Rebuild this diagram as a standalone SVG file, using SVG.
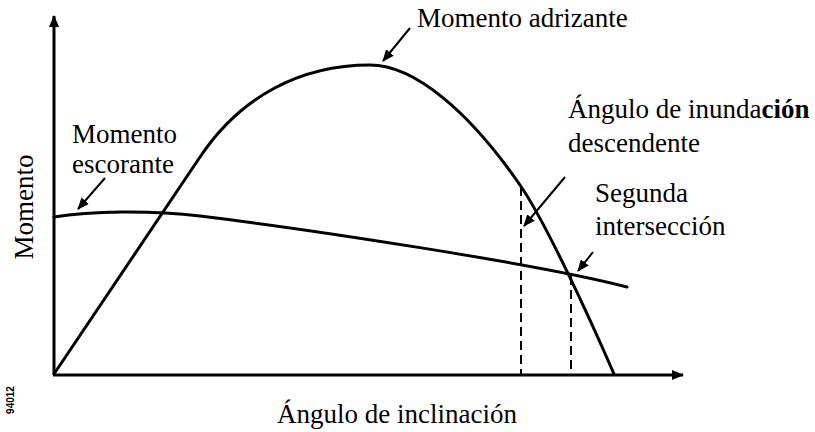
<svg xmlns="http://www.w3.org/2000/svg" width="815" height="432" viewBox="0 0 815 432">
<style>
text.lbl{font-family:'Liberation Serif',Tinos,'Noto Serif','DejaVu Serif',serif;font-size:27px;fill:#000}
.curve{fill:none;stroke:#000;stroke-width:3;stroke-linecap:round;stroke-linejoin:round}
.axis{fill:none;stroke:#000;stroke-width:3}
.dash{fill:none;stroke:#000;stroke-width:2;stroke-dasharray:9 5}
.ptr{fill:none;stroke:#000;stroke-width:2}
.code{font-family:"Liberation Sans",Arial,sans-serif;font-size:10px;font-weight:bold;fill:#000}
</style>
<defs>
<marker id="axhead" viewBox="0 0 12 10" refX="11" refY="5" markerWidth="12" markerHeight="10" markerUnits="userSpaceOnUse" orient="auto">
<path d="M0,0 L12,5 L0,10 Z" fill="#000"/>
</marker>
<marker id="ptrhead" viewBox="0 0 12 10" refX="11" refY="5" markerWidth="12" markerHeight="10" markerUnits="userSpaceOnUse" orient="auto">
<path d="M0,0 L12,5 L0,10 Z" fill="#000"/>
</marker>
</defs>
<rect width="815" height="432" fill="#fff"/>
<g id="axes">
<path class="axis" d="M54,375 L54,16" marker-end="url(#axhead)"/>
<path class="axis" d="M53,375 L683,375" marker-end="url(#axhead)"/>
</g>
<g id="curves">
<path id="righting" class="curve" d="M54,374 L200,157 C240,97 300,65 370,65 C415,65 470,112.5 520,185 C545,221 589,316.5 614,374"/>
<path id="heeling" class="curve" d="M54,217 C90,211 150,210 200,216 C300,228 540,264 627,287"/>
</g>
<g id="connectors">
<path class="dash" d="M521,187 L521,374"/>
<path class="dash" d="M571,276 L571,374"/>
<path class="ptr" d="M105,178 L78,209" marker-end="url(#ptrhead)"/>
<path class="ptr" d="M410,28 L383,61" marker-end="url(#ptrhead)"/>
<path class="ptr" d="M565,177 L524,226" marker-end="url(#ptrhead)"/>
<path class="ptr" d="M593,252 L578,271" marker-end="url(#ptrhead)"/>
</g>
<g id="label-escorante" font-family="Liberation Serif, serif">
<text class="lbl" x="72" y="143" font-family="Liberation Serif, serif">Momento</text>
<text class="lbl" x="72" y="173" font-family="Liberation Serif, serif">escorante</text>
</g>
<g id="label-adrizante">
<text class="lbl" x="417" y="27" font-family="Liberation Serif, serif">Momento adrizante</text>
</g>
<g id="label-inundacion">
<text class="lbl" x="568" y="118" font-family="Liberation Serif, serif">Ángulo de inunda<tspan font-weight="bold">ción</tspan></text>
<text class="lbl" x="568" y="152" font-family="Liberation Serif, serif">descendente</text>
</g>
<g id="label-segunda">
<text class="lbl" x="595" y="202" font-family="Liberation Serif, serif">Segunda</text>
<text class="lbl" x="595" y="235" font-family="Liberation Serif, serif">intersección</text>
</g>
<g id="label-yaxis">
<text class="lbl" text-anchor="middle" transform="translate(33,207) rotate(-90)" font-size="29" font-family="Liberation Serif, serif">Momento</text>
</g>
<g id="label-xaxis">
<text class="lbl" x="277" y="423" font-family="Liberation Serif, serif">Ángulo de inclinación</text>
</g>
<g id="code">
<text class="code" text-anchor="middle" transform="translate(14,400) rotate(-90)">94012</text>
</g>
</svg>
